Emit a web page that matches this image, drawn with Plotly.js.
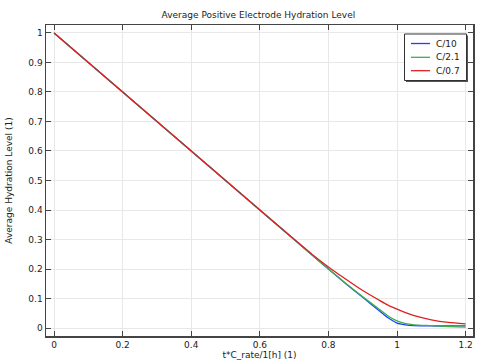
<!DOCTYPE html>
<html>
<head>
<meta charset="utf-8">
<script src="https://cdn.plot.ly/plotly-3.0.1.min.js"></script>
<style>html,body{margin:0;padding:0;background:#fff;}#chart{width:483px;height:363px;}</style>
</head>
<body>
<div id="chart"></div>
<script>
var xVals = [0, 0.1, 0.2, 0.3, 0.4, 0.5, 0.6, 0.7, 0.75, 0.8, 0.85, 0.9, 0.95, 0.975, 1.0, 1.025, 1.05, 1.1, 1.15, 1.2];
var seriesNames = ["C/10", "C/2.1", "C/0.7"];
var c10 =  [1, 0.9, 0.8, 0.7, 0.6, 0.5, 0.4, 0.3, 0.25, 0.2, 0.151, 0.104, 0.057, 0.034, 0.017, 0.011, 0.008, 0.007, 0.007, 0.007];
var c21 =  [1, 0.9, 0.8, 0.7, 0.6, 0.5, 0.4, 0.3, 0.25, 0.2, 0.152, 0.106, 0.062, 0.040, 0.024, 0.015, 0.011, 0.008, 0.005, 0.003];
var c07 =  [1, 0.9, 0.8, 0.7, 0.6, 0.5, 0.4, 0.301, 0.252, 0.207, 0.166, 0.127, 0.093, 0.077, 0.064, 0.052, 0.042, 0.028, 0.019, 0.014];
var colors = ["#1f3fff", "#3cb04a", "#e02020"];
var xTicks = [0, 0.2, 0.4, 0.6, 0.8, 1, 1.2];
var yTicks = [0, 0.1, 0.2, 0.3, 0.4, 0.5, 0.6, 0.7, 0.8, 0.9, 1];

var ys = [c10, c21, c07];
var traces = ys.map(function(y, i) {
  return {x: xVals, y: y, name: seriesNames[i], type: "scatter", mode: "lines",
          line: {color: colors[i], width: 1.3, shape: "spline", smoothing: 0.6}};
});

var fam = "DejaVu Sans, sans-serif";
var font = {family: fam, size: 9, color: "#222"};

// compact boxed legend with drop shadow (paper coordinates)
var shapes = [
  {type: "rect", xref: "paper", yref: "paper", x0: 0.8431, x1: 0.9883, y0: 0.8167, y1: 0.9663,
   line: {width: 0}, fillcolor: "#555"},
  {type: "rect", xref: "paper", yref: "paper", x0: 0.8396, x1: 0.9848, y0: 0.8215, y1: 0.9711,
   line: {color: "#333", width: 1}, fillcolor: "#fff"}
];
var annotations = [];
var legY = [0.9405, 0.8961, 0.8531];
seriesNames.forEach(function(n, i) {
  shapes.push({type: "line", xref: "paper", yref: "paper", x0: 0.8548, x1: 0.8993, y0: legY[i], y1: legY[i],
               line: {color: colors[i], width: 1.3}});
  annotations.push({xref: "paper", yref: "paper", x: 0.9098, y: legY[i], xanchor: "left", yanchor: "middle",
                    text: n, showarrow: false, font: font});
});

var layout = {
  width: 483, height: 363,
  margin: {l: 46, r: 10, t: 25, b: 27},
  paper_bgcolor: "#fff", plot_bgcolor: "#fff",
  font: font,
  title: {text: "Average Positive Electrode Hydration Level", font: font, x: 0.535, xanchor: "center", y: 0.958, yanchor: "middle"},
  xaxis: {range: [-0.0235, 1.2215], tickvals: xTicks, ticktext: xTicks.map(String),
          showgrid: true, gridcolor: "#e8e8e8", gridwidth: 1, zeroline: false,
          showline: true, linecolor: "#444", linewidth: 1.5, mirror: "ticks",
          ticks: "inside", ticklen: 5, tickcolor: "#444",
          title: {text: "t*C_rate/1[h] (1)", font: font, standoff: 1}},
  yaxis: {range: [-0.027, 1.027], tickvals: yTicks, ticktext: yTicks.map(String),
          showgrid: true, gridcolor: "#e8e8e8", gridwidth: 1, zeroline: false,
          showline: true, linecolor: "#444", linewidth: 1.5, mirror: "ticks",
          ticks: "inside", ticklen: 5, tickcolor: "#444",
          title: {text: "Average Hydration Level (1)", font: font, standoff: 14}},
  shapes: shapes,
  annotations: annotations,
  showlegend: false
};
Plotly.newPlot("chart", traces, layout, {displayModeBar: false, staticPlot: true});
</script>
</body>
</html>
